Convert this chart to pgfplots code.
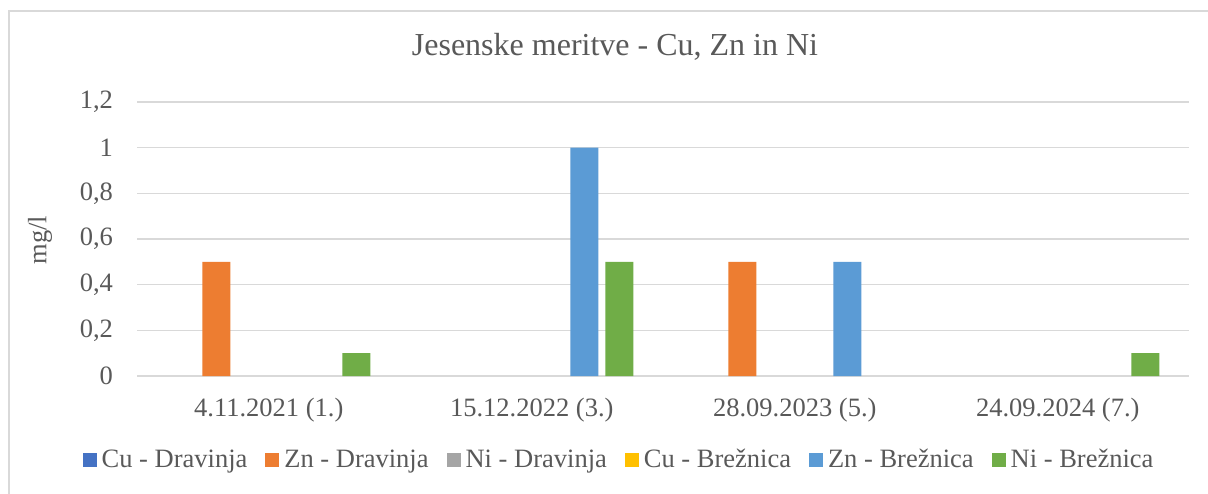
\documentclass[border=0pt]{standalone}
\usepackage{pgfplots}
\pgfplotsset{compat=1.18}
\usepackage{fontspec}
\setmainfont{Liberation Serif}
\definecolor{txt}{HTML}{595959}
\definecolor{grd}{HTML}{D9D9D9}
\definecolor{c1}{HTML}{4472C4}
\definecolor{c2}{HTML}{ED7D31}
\definecolor{c3}{HTML}{A5A5A5}
\definecolor{c4}{HTML}{FFC000}
\definecolor{c5}{HTML}{5B9BD5}
\definecolor{c6}{HTML}{70AD47}
\begin{document}
\begin{tikzpicture}
\useasboundingbox (0,0) rectangle (604pt,246.5pt);
\fill[white] (0,0) rectangle (604pt,246.5pt);
\draw[grd, line width=0.75pt] (4.5pt,-5pt) -- (4.5pt,241pt) -- (620pt,241pt);
\begin{axis}[
  at={(68.65pt,58.5pt)}, anchor=south west,
  scale only axis, width=526pt, height=137pt,
  ybar, bar width=14pt,
  xmin=-0.5, xmax=3.5, ymin=0, ymax=1.2,
  xtick={0,1,2,3},
  xticklabels={4.11.2021 (1.), 15.12.2022 (3.), 28.09.2023 (5.), 24.09.2024 (7.)},
  ytick={0,0.2,0.4,0.6,0.8,1,1.2},
  ymajorgrids, grid style={grd, line width=0.75pt},
  axis line style={draw=none},
  major tick length=0pt,
  tick label style={font=\fontsize{13.25}{15}\selectfont, text=txt},
  yticklabel style={inner sep=0pt, xshift=-12pt},
  xticklabel style={inner sep=0pt, yshift=-11pt},
  /pgf/number format/use comma,
  /pgf/number format/fixed,
  /pgf/number format/assume math mode=true,
  legend columns=6,
  legend image code/.code={\fill[#1] (0pt,-3.5pt) rectangle (7pt,3.5pt);},
  legend style={at={(0.457,-0.3066)}, anchor=center, draw=none, fill=none,
    inner sep=0pt, font=\fontsize{13.25}{15}\selectfont, text=txt,
    nodes={inner sep=0pt},
    column sep=2.5pt,
    /tikz/every even column/.append style={column sep=9pt}},
]
% Cu - Dravinja: all values 0
\addlegendimage{fill=c1, draw=none}
\addlegendentry{Cu - Dravinja}
% Zn - Dravinja: 0.5, 0, 0.5, 0
\addplot[fill=c2, draw=none, bar shift=-26.25pt] coordinates {(0,0.5) (2,0.5)};
\addlegendentry{Zn - Dravinja}
% Ni - Dravinja: all values 0
\addlegendimage{fill=c3, draw=none}
\addlegendentry{Ni - Dravinja}
% Cu - Brežnica: all values 0
\addlegendimage{fill=c4, draw=none}
\addlegendentry{Cu - Brežnica}
% Zn - Brežnica: 0, 1, 0.5, 0
\addplot[fill=c5, draw=none, bar shift=26.25pt] coordinates {(1,1) (2,0.5)};
\addlegendentry{Zn - Brežnica}
% Ni - Brežnica: 0.1, 0.5, 0, 0.1
\addplot[fill=c6, draw=none, bar shift=43.75pt] coordinates {(0,0.1) (1,0.5) (3,0.1)};
\addlegendentry{Ni - Brežnica}
\end{axis}
\node[text=txt, font=\fontsize{16}{19}\selectfont] at (307.5pt,223pt) {Jesenske meritve - Cu, Zn in Ni};
\node[text=txt, font=\fontsize{13.25}{15}\selectfont, rotate=90] at (20pt,126.5pt) {mg/l};
\end{tikzpicture}
\end{document}
